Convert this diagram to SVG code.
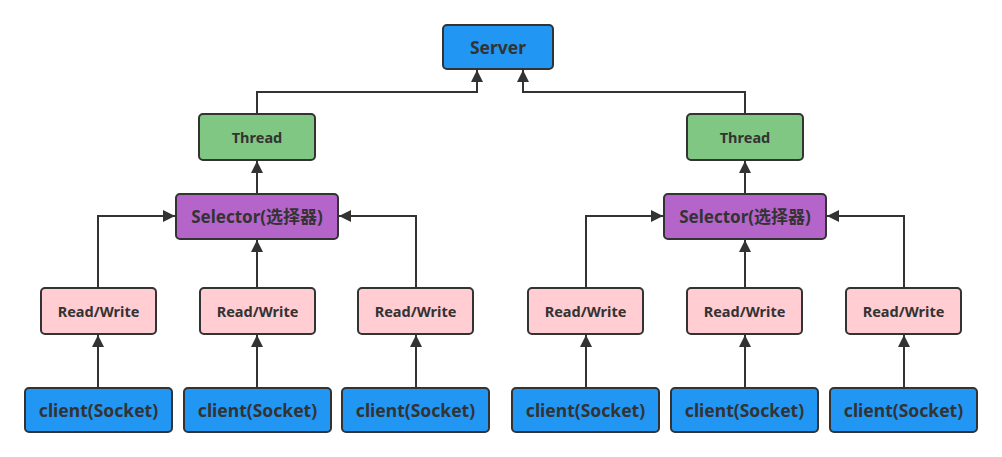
<svg xmlns="http://www.w3.org/2000/svg" width="1002" height="457" viewBox="0 0 1002 457">
<style>
.box{stroke:#333333;stroke-width:2}
.blue{fill:#2196F3}
.green{fill:#7FC782}
.purple{fill:#B565C9}
.pink{fill:#FFCDD2}
text{font-family:"Noto Sans","Noto Sans CJK SC",sans-serif;font-weight:bold;fill:#333333;text-anchor:middle;dominant-baseline:central}
.c{fill:none;stroke:#333333;stroke-width:2}
</style>
<defs>
<marker id="ah" viewBox="0 0 10 10" refX="10" refY="5" markerWidth="6" markerHeight="6" orient="auto" markerUnits="strokeWidth">
<path d="M0,0 L10,5 L0,10 Z" fill="#333333"/>
</marker>
</defs>
<rect width="1002" height="457" fill="#ffffff"/>
<g id="connectors">
<path class="c" d="M257,114 V92 H477 V70" marker-end="url(#ah)"/>
<path class="c" d="M745,114 V92 H523 V70" marker-end="url(#ah)"/>
<path class="c" d="M257,194 V161" marker-end="url(#ah)"/>
<path class="c" d="M745,194 V161" marker-end="url(#ah)"/>
<path class="c" d="M98,288 V216 H175" marker-end="url(#ah)"/>
<path class="c" d="M257,288 V240" marker-end="url(#ah)"/>
<path class="c" d="M416,288 V216 H339" marker-end="url(#ah)"/>
<path class="c" d="M586,288 V216 H663" marker-end="url(#ah)"/>
<path class="c" d="M745,288 V240" marker-end="url(#ah)"/>
<path class="c" d="M904,288 V216 H827" marker-end="url(#ah)"/>
<path class="c" d="M98,388 V335" marker-end="url(#ah)"/>
<path class="c" d="M257,388 V335" marker-end="url(#ah)"/>
<path class="c" d="M416,388 V335" marker-end="url(#ah)"/>
<path class="c" d="M586,388 V335" marker-end="url(#ah)"/>
<path class="c" d="M745,388 V335" marker-end="url(#ah)"/>
<path class="c" d="M904,388 V335" marker-end="url(#ah)"/>
</g>
<g id="server"><rect class="box blue" x="443" y="25" width="110" height="44" rx="4"/><text x="498" y="47" font-size="17.5">Server</text></g>
<g id="thread-left"><rect class="box green" x="199" y="114" width="116" height="46" rx="4"/><text x="257" y="137" font-size="14.5">Thread</text></g>
<g id="thread-right"><rect class="box green" x="687" y="114" width="116" height="46" rx="4"/><text x="745" y="137" font-size="14.5">Thread</text></g>
<g id="selector-left"><rect class="box purple" x="176" y="194" width="162" height="45" rx="4"/><text x="257" y="216.5" font-size="17">Selector(选择器)</text></g>
<g id="selector-right"><rect class="box purple" x="664" y="194" width="162" height="45" rx="4"/><text x="745" y="216.5" font-size="17">Selector(选择器)</text></g>
<g id="rw-1"><rect class="box pink" x="41" y="288" width="115" height="46" rx="4"/><text x="98.5" y="311" font-size="14.5">Read/Write</text></g>
<g id="rw-2"><rect class="box pink" x="200" y="288" width="115" height="46" rx="4"/><text x="257.5" y="311" font-size="14.5">Read/Write</text></g>
<g id="rw-3"><rect class="box pink" x="358" y="288" width="115" height="46" rx="4"/><text x="415.5" y="311" font-size="14.5">Read/Write</text></g>
<g id="rw-4"><rect class="box pink" x="528" y="288" width="115" height="46" rx="4"/><text x="585.5" y="311" font-size="14.5">Read/Write</text></g>
<g id="rw-5"><rect class="box pink" x="687" y="288" width="115" height="46" rx="4"/><text x="744.5" y="311" font-size="14.5">Read/Write</text></g>
<g id="rw-6"><rect class="box pink" x="846" y="288" width="115" height="46" rx="4"/><text x="903.5" y="311" font-size="14.5">Read/Write</text></g>
<g id="client-1"><rect class="box blue" x="25" y="388" width="147" height="44" rx="4"/><text x="98.5" y="410" font-size="17.5">client(Socket)</text></g>
<g id="client-2"><rect class="box blue" x="184" y="388" width="147" height="44" rx="4"/><text x="257.5" y="410" font-size="17.5">client(Socket)</text></g>
<g id="client-3"><rect class="box blue" x="342" y="388" width="147" height="44" rx="4"/><text x="415.5" y="410" font-size="17.5">client(Socket)</text></g>
<g id="client-4"><rect class="box blue" x="512" y="388" width="147" height="44" rx="4"/><text x="585.5" y="410" font-size="17.5">client(Socket)</text></g>
<g id="client-5"><rect class="box blue" x="671" y="388" width="147" height="44" rx="4"/><text x="744.5" y="410" font-size="17.5">client(Socket)</text></g>
<g id="client-6"><rect class="box blue" x="830" y="388" width="147" height="44" rx="4"/><text x="903.5" y="410" font-size="17.5">client(Socket)</text></g>
</svg>
